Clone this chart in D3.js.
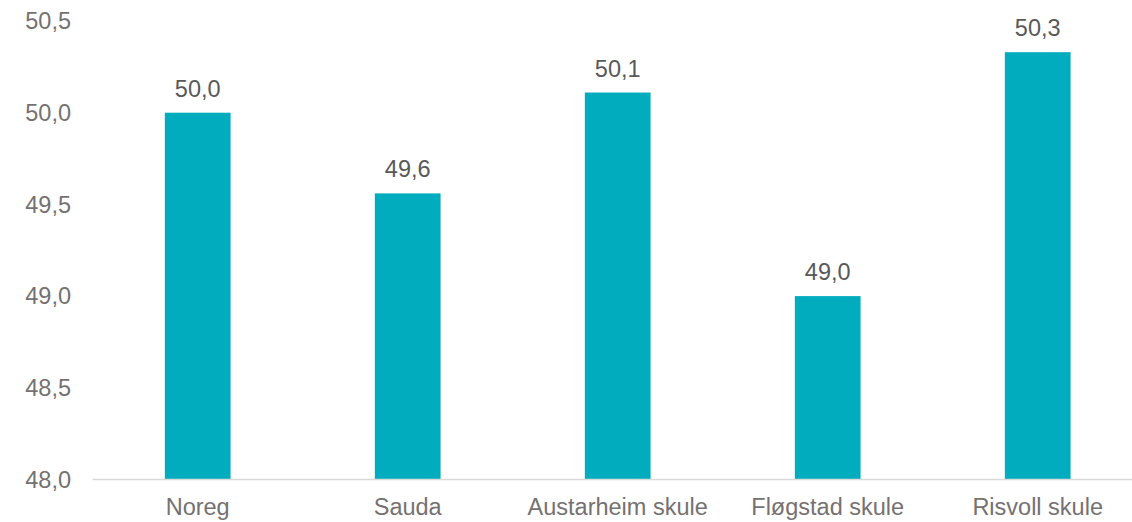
<!DOCTYPE html>
<html><head><meta charset="utf-8">
<script src="https://cdn.jsdelivr.net/npm/d3@7"></script>
<style>html,body{margin:0;padding:0;background:#fff;}svg{display:block;font-family:"Liberation Sans",Arial,sans-serif;}</style>
</head><body>
<svg id="c" width="1132" height="522"></svg>
<script>
const categories = ["Noreg", "Sauda", "Austarheim skule", "Fløgstad skule", "Risvoll skule"];
const values = [50.0, 49.56, 50.11, 49.0, 50.33];
const yTicks = [48.0, 48.5, 49.0, 49.5, 50.0, 50.5];

const svg = d3.select("#c");
const fmt = v => d3.format(".1f")(v).replace(".", ",");
const x = d3.scaleBand().domain(categories).range([92.7, 1142.7]).paddingInner(0.687).paddingOuter(0.3435);
const y = d3.scaleLinear().domain([48, 50.5]).range([479.5, 21]);

// y tick labels
svg.append("g").selectAll("text").data(yTicks).join("text")
  .attr("x", 71).attr("y", d => y(d)).attr("dy", "0.35em")
  .attr("text-anchor", "end").attr("font-size", 23.5).attr("fill", "#757171")
  .text(fmt);

// bars
svg.append("g").selectAll("rect").data(values).join("rect")
  .attr("x", (d, i) => x(categories[i])).attr("width", x.bandwidth())
  .attr("y", d => y(d)).attr("height", d => y(48) - y(d))
  .attr("fill", "#00ACBE");

// axis line
svg.append("line").attr("x1", 92.7).attr("x2", 1132).attr("y1", y(48)).attr("y2", y(48))
  .attr("stroke", "#D9D9D9").attr("stroke-width", 1.5);

// data labels
svg.append("g").selectAll("text").data(values).join("text")
  .attr("x", (d, i) => x(categories[i]) + x.bandwidth() / 2)
  .attr("y", d => y(d) - 16)
  .attr("text-anchor", "middle").attr("font-size", 23.5).attr("fill", "#595959")
  .text(fmt);

// category labels
svg.append("g").selectAll("text").data(categories).join("text")
  .attr("x", d => x(d) + x.bandwidth() / 2).attr("y", 514.5)
  .attr("text-anchor", "middle").attr("font-size", 23.5).attr("fill", "#757171")
  .text(d => d);
</script>
</body></html>
